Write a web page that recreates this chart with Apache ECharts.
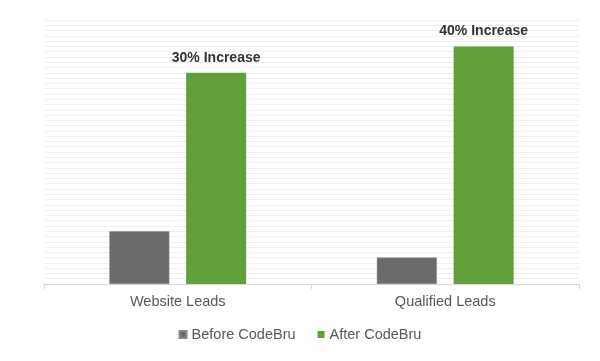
<!DOCTYPE html>
<html><head><meta charset="utf-8">
<script src="https://cdn.jsdelivr.net/npm/echarts@6/dist/echarts.min.js"></script>
<style>html,body{margin:0;padding:0;background:#fff}#c{width:600px;height:361px}</style>
</head><body><div id="c"></div>
<script>
const categories = ["Website Leads", "Qualified Leads"];
const beforeValues = [10, 5];
const afterValues = [40, 45];
const increaseLabels = ["30% Increase", "40% Increase"];
const seriesNames = ["Before CodeBru", "After CodeBru"];

const chart = echarts.init(document.getElementById('c'), null, {renderer: 'canvas'});
chart.setOption({
  animation: false,
  grid: {left: 44, right: 21, top: 20, bottom: 77},
  legend: {
    top: 327, left: 'center', icon: 'rect', itemWidth: 7, itemHeight: 7, itemGap: 22, padding: 0,
    textStyle: {fontFamily: 'Liberation Sans', fontSize: 14.5, color: '#595959'},
    data: seriesNames
  },
  xAxis: {
    type: 'category', data: categories,
    axisLine: {lineStyle: {color: '#d9d9d9'}},
    axisTick: {show: true, length: 5, lineStyle: {color: '#d9d9d9'}},
    axisLabel: {fontFamily: 'Liberation Sans', fontSize: 14.5, color: '#595959', margin: 10}
  },
  yAxis: {
    type: 'value', min: 0, max: 50, interval: 1,
    axisLabel: {show: false}, axisLine: {show: false}, axisTick: {show: false},
    splitLine: {lineStyle: {color: '#efefef', width: 1}}
  },
  series: [
    {name: seriesNames[0], type: 'bar', data: beforeValues, barWidth: 60, barGap: '28%',
     itemStyle: {color: '#6b6b6b', borderColor: '#8a8a8a', borderWidth: 0.5}},
    {name: seriesNames[1], type: 'bar', data: afterValues, barWidth: 60,
     itemStyle: {color: '#5fa038'},
     label: {show: true, position: 'top', distance: 8,
       formatter: p => increaseLabels[p.dataIndex],
       fontFamily: 'Liberation Sans', fontSize: 14, fontWeight: 'bold', color: '#333333'}}
  ]
});
</script></body></html>
